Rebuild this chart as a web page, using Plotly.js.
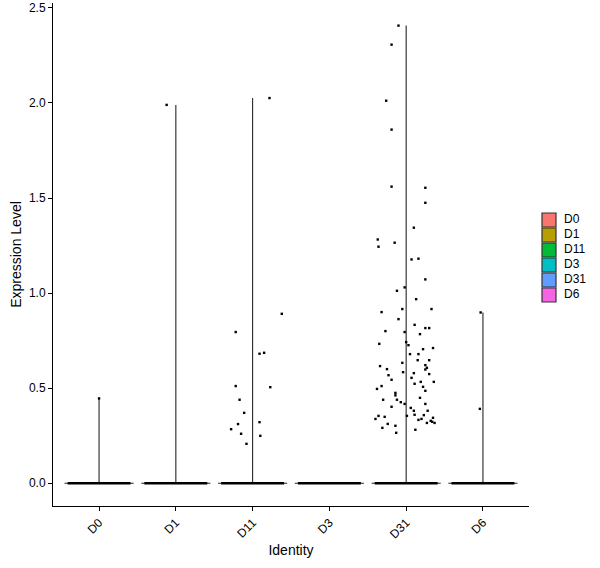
<!DOCTYPE html>
<html>
<head>
<meta charset="utf-8">
<script src="https://cdn.plot.ly/plotly-3.0.1.min.js"></script>
<style>
  html, body { margin: 0; padding: 0; background: #fff; }
  #vln_plot { width: 600px; height: 568px; }
</style>
</head>
<body>
<div id="vln_plot"></div>
<script>
/* identities, in axis order */
var idents = ['D0', 'D1', 'D11', 'D3', 'D31', 'D6'];
var identColors = ['#F8766D', '#B79F00', '#00BA38', '#00BFC4', '#619CFF', '#F564E3'];

/* non-zero cells: jitter offset from the group centre, and expression value */
var d0_off = [0.00];
var d0_val = [0.446];

var d1_off = [-0.12];
var d1_val = [1.99];

var d11_off = [0.22, -0.22, 0.38, 0.09, 0.15, -0.22, 0.23, -0.17, -0.11, -0.19, -0.28, 0.09, -0.15, 0.10, -0.08];
var d11_val = [2.026, 0.795, 0.891, 0.681, 0.686, 0.511, 0.505, 0.439, 0.370, 0.311, 0.284, 0.321, 0.260, 0.249, 0.207];

var d3_off = [];
var d3_val = [];

var d31_off = [-0.10, -0.19, -0.26, -0.19, -0.19, 0.25, 0.25, 0.10, -0.37, -0.36, -0.15, 0.07, 0.16, 0.25,
  -0.02, -0.12, 0.13, -0.05, 0.33, -0.32, -0.10, 0.11, 0.25, 0.30, -0.27, -0.02, 0.18, 0.00, -0.35, 0.03,
  0.22, 0.35, 0.05, 0.16, 0.15, 0.30, -0.05, -0.34, 0.25, 0.27, -0.25, 0.25, -0.04, 0.10, -0.23, 0.30,
  0.07, -0.19, 0.19, 0.36, 0.11, -0.32, 0.22, -0.38, 0.25, -0.14, -0.14, 0.18, -0.30, -0.12, -0.07, -0.02,
  0.25, -0.19, 0.06, 0.10, 0.28, -0.36, -0.28, 0.01, 0.11, 0.23, -0.40, 0.16, 0.20, 0.35, 0.32, 0.34,
  0.37, 0.27, -0.24, -0.31, -0.14, 0.12, -0.13];
var d31_val = [2.407, 2.307, 2.012, 1.860, 1.560, 1.554, 1.475, 1.344, 1.282, 1.244, 1.265, 1.177, 1.181, 1.072,
  1.030, 1.012, 0.968, 0.916, 0.916, 0.900, 0.863, 0.833, 0.816, 0.816, 0.800, 0.795, 0.784, 0.742, 0.733, 0.726,
  0.705, 0.711, 0.679, 0.679, 0.647, 0.647, 0.633, 0.616, 0.621, 0.607, 0.600, 0.598, 0.584, 0.579, 0.568, 0.574,
  0.554, 0.544, 0.533, 0.533, 0.523, 0.511, 0.507, 0.496, 0.486, 0.475, 0.462, 0.449, 0.439, 0.439, 0.426, 0.417,
  0.417, 0.402, 0.396, 0.381, 0.381, 0.354, 0.349, 0.354, 0.360, 0.358, 0.338, 0.333, 0.338, 0.344, 0.328, 0.323,
  0.317, 0.317, 0.312, 0.291, 0.302, 0.281, 0.265];

var d6_off = [-0.03, -0.04];
var d6_val = [0.898, 0.391];

var yTicks = [0, 0.5, 1.0, 1.5, 2.0, 2.5];

function drawVlnPlot(){
    var offs = [d0_off, d1_off, d11_off, d3_off, d31_off, d6_off];
    var vals = [d0_val, d1_val, d11_val, d3_val, d31_val, d6_val];
    var data = [];
    var px = [], py = [];

    for (var i = 0; i < idents.length; i++) {
        var c = i + 1;
        var top = vals[i].length ? Math.max.apply(null, vals[i]) : 0;

        // collapsed violin: base at zero and a spine up to the max
        var vx = [c - 0.45, c + 0.45], vy = [0, 0];
        if (top > 0) { vx.push(null, c, c); vy.push(null, 0, top); }
        data.push({ x: vx, y: vy, mode: 'lines', type: 'scatter',
            line: { color: '#262626', width: 1.1 }, showlegend: false, hoverinfo: 'skip' });

        // the mass of zero cells, jittered into a solid band
        data.push({ x: [c - 0.41, c + 0.41], y: [0, 0], mode: 'lines', type: 'scatter',
            line: { color: '#000000', width: 2.6 }, showlegend: false, hoverinfo: 'skip' });

        for (var j = 0; j < vals[i].length; j++) {
            px.push(c + offs[i][j]);
            py.push(vals[i][j]);
        }
    }

    data.push({ x: px, y: py, mode: 'markers', type: 'scatter',
        marker: { color: '#000000', size: 2.4, symbol: 'square' }, showlegend: false, hoverinfo: 'skip' });

    // legend keys, ggplot style, on a small side panel
    var keyIdx = idents.map(function (d, k) { return k; });
    data.push({ x: idents.map(function () { return 14; }), y: keyIdx, xaxis: 'x2', yaxis: 'y2',
        mode: 'markers', type: 'scatter', showlegend: false, hoverinfo: 'skip',
        marker: { color: identColors, size: 14, symbol: 'square', line: { color: '#333333', width: 1.2 } } });
    data.push({ x: idents.map(function () { return 29; }), y: keyIdx, xaxis: 'x2', yaxis: 'y2',
        mode: 'text', type: 'scatter', text: idents, textposition: 'middle right',
        textfont: { size: 12, color: '#000000' }, showlegend: false, hoverinfo: 'skip' });

    var layout = {
        width: 600, height: 568,
        margin: { l: 53, r: 0, t: 3, b: 62 },
        paper_bgcolor: '#ffffff', plot_bgcolor: '#ffffff',
        font: { family: 'Liberation Sans, Arial, sans-serif', color: '#000000', size: 12 },
        showlegend: false,
        xaxis: {
            domain: [0, 476 / 547],
            range: [0.4, 6.6], tickvals: [1, 2, 3, 4, 5, 6], ticktext: idents,
            tickangle: -45, ticks: 'outside', ticklen: 4, tickcolor: '#000000',
            showline: true, linecolor: '#000000', linewidth: 1,
            showgrid: false, zeroline: false, tickfont: { size: 12 },
            title: { text: 'Identity', font: { size: 14 }, standoff: 4 }
        },
        yaxis: {
            range: [-0.12, 2.526], tickvals: yTicks, tickformat: '.1f',
            ticks: 'outside', ticklen: 4, tickcolor: '#000000',
            showline: true, linecolor: '#000000', linewidth: 1,
            showgrid: false, zeroline: false, tickfont: { size: 12 },
            title: { text: 'Expression Level', font: { size: 14 }, standoff: 4 }
        },
        xaxis2: { domain: [482 / 547, 1], range: [0, 65], visible: false, fixedrange: true },
        yaxis2: { anchor: 'x2', range: [(506 - 220) / 15, (3 - 220) / 15], visible: false, fixedrange: true }
    };

    Plotly.newPlot('vln_plot', data, layout, { staticPlot: true });
}

drawVlnPlot();
</script>
</body>
</html>
